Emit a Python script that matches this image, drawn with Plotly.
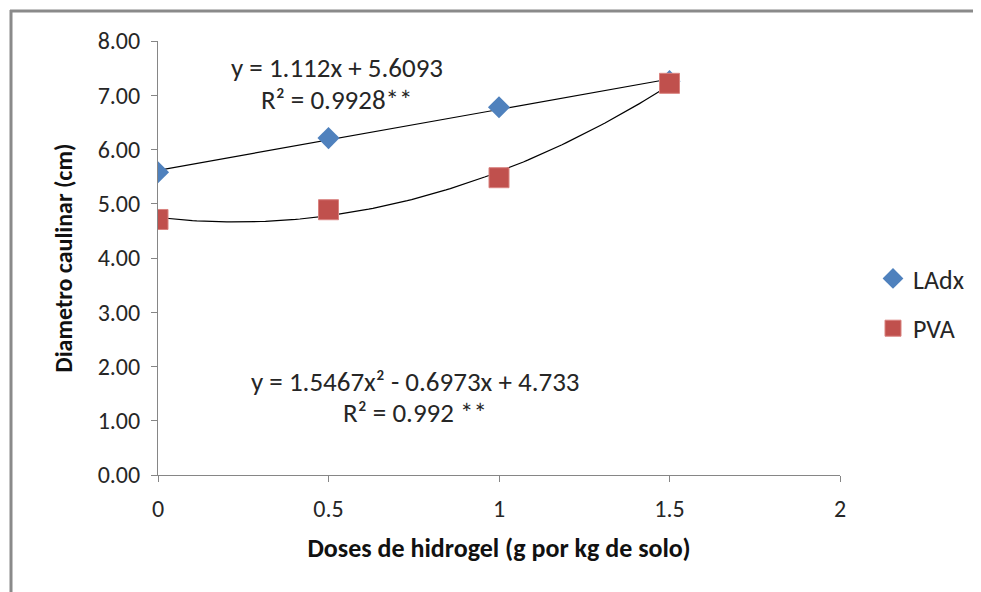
import numpy as np
import plotly.graph_objects as go

doses = [0, 0.5, 1, 1.5]
ladx = [5.58, 6.21, 6.78, 7.26]
pva = [4.71, 4.89, 5.48, 7.22]
y_ticks = [0, 1, 2, 3, 4, 5, 6, 7, 8]
x_ticks = [0, 0.5, 1, 1.5, 2]

FONT = "Carlito, Lato, sans-serif"
AXIS_GRAY = "#868686"
TXT = "#262626"

fig = go.Figure()

# trendlines fitted from the data
xf = np.linspace(min(doses), max(doses), 120)
lin = np.polyfit(doses, ladx, 1)
quad = np.polyfit(doses, pva, 2)
fig.add_trace(go.Scatter(x=xf, y=np.polyval(lin, xf), mode="lines",
                         line=dict(color="black", width=1.2), showlegend=False, hoverinfo="skip"))
fig.add_trace(go.Scatter(x=xf, y=np.polyval(quad, xf), mode="lines",
                         line=dict(color="black", width=1.2), showlegend=False, hoverinfo="skip"))

fig.add_trace(go.Scatter(x=doses, y=ladx, mode="markers", name="LAdx", legendgroup="a",
                         marker=dict(symbol="diamond", size=17, color="#4F81BD",
                                     line=dict(width=0))))
fig.add_trace(go.Scatter(x=doses, y=pva, mode="markers", name="PVA", legendgroup="b",
                         marker=dict(symbol="square", size=20, color="#C0504D",
                                     line=dict(width=1, color="#D9827F"))))

fig.update_xaxes(range=[0, 2], tickvals=x_ticks, ticktext=[str(v) for v in x_ticks],
                 showgrid=False, zeroline=False, showline=True, linecolor=AXIS_GRAY, linewidth=1,
                 ticks="outside", ticklen=6, tickcolor=AXIS_GRAY, ticklabelstandoff=6,
                 tickfont=dict(family=FONT, size=24, color=TXT),
                 title=dict(text="<b>Doses de hidrogel (g por kg de solo)</b>",
                            font=dict(family=FONT, size=26, color="#111"), standoff=17))
fig.update_yaxes(range=[0, 8], tickvals=y_ticks, tickformat=".2f",
                 showgrid=False, zeroline=False, showline=True, linecolor=AXIS_GRAY, linewidth=1,
                 ticks="outside", ticklen=6, tickcolor=AXIS_GRAY, ticklabelstandoff=6,
                 tickfont=dict(family=FONT, size=24, color=TXT),
                 title=dict(text="<b>Diametro caulinar (cm)</b>",
                            font=dict(family=FONT, size=24, color="#111"), standoff=18))

ann_font = dict(family=FONT, size=27, color=TXT)
fig.add_annotation(x=0.525, y=7.52, xref="x", yref="y", text="y = 1.112x + 5.6093",
                   showarrow=False, font=ann_font)
fig.add_annotation(x=0.525, y=6.93, xref="x", yref="y", text="R² = 0.9928**",
                   showarrow=False, font=ann_font)
fig.add_annotation(x=0.754, y=1.73, xref="x", yref="y", text="y = 1.5467x² - 0.6973x + 4.733",
                   showarrow=False, font=ann_font)
fig.add_annotation(x=0.754, y=1.16, xref="x", yref="y", text="R² = 0.992 **",
                   showarrow=False, font=ann_font)

# page body has an 8px margin: positions below are screen pixels
OFF = 8
L, R, T, B = 158 - OFF, 141 + OFF, 41 - OFF, 117 + OFF
pw, ph = 981 - L - R, 592 - T - B
def px(xs): return (xs - 158) / pw
def py(ys): return (475 - ys) / ph
fig.add_shape(type="line", xref="paper", yref="paper", x0=px(11), x1=px(11), y0=py(10), y1=py(620),
              line=dict(color="#8a8a8a", width=3))
fig.add_shape(type="line", xref="paper", yref="paper", x0=px(10), x1=px(1000), y0=py(11), y1=py(11),
              line=dict(color="#8a8a8a", width=3))

fig.update_layout(
    width=981, height=592, margin=dict(l=L, r=R, t=T, b=B),
    paper_bgcolor="white", plot_bgcolor="white",
    font=dict(family=FONT),
    legend=dict(x=px(873), y=py(255), xanchor="left", yanchor="top",
                font=dict(family=FONT, size=26, color=TXT),
                tracegroupgap=13, bgcolor="rgba(0,0,0,0)"),
)

fig.write_html("out.html")
